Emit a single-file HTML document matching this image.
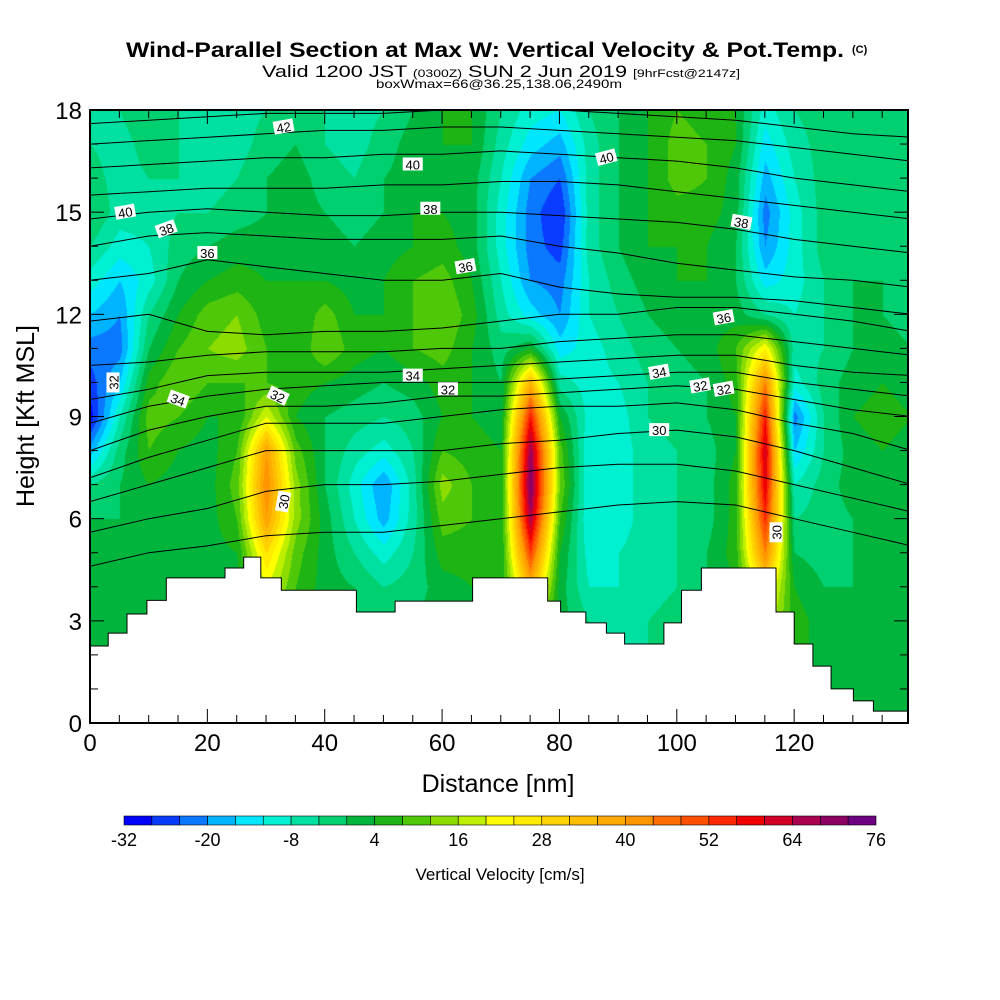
<!DOCTYPE html>
<html><head><meta charset="utf-8">
<style>
body{margin:0;background:#fff;width:1000px;height:1000px;overflow:hidden;font-family:"Liberation Sans",sans-serif}
svg{position:absolute;left:0;top:0}
canvas{position:absolute;left:90px;top:110px}
</style></head>
<body>
<canvas id="heat" width="818" height="613"></canvas>
<svg id="chart" width="1000" height="1000">
<text x="126" y="57" font-size="21" font-weight="bold" textLength="718" lengthAdjust="spacingAndGlyphs">Wind-Parallel Section at Max W: Vertical Velocity &amp; Pot.Temp.</text>
<text x="852" y="53" font-size="11" font-weight="bold">(C)</text>
<text x="262" y="77" font-size="17" textLength="478" lengthAdjust="spacingAndGlyphs">Valid 1200 JST <tspan font-size="11">(0300Z)</tspan> SUN 2 Jun 2019 <tspan font-size="11">[9hrFcst@2147z]</tspan></text>
<text x="376" y="88" font-size="12" textLength="246" lengthAdjust="spacingAndGlyphs">boxWmax=66@36.25,138.06,2490m</text>
<g id="plotg"></g>
<text x="498" y="792" text-anchor="middle" font-size="25">Distance [nm]</text>
<text transform="translate(34,416) rotate(-90)" text-anchor="middle" font-size="25">Height [Kft MSL]</text>
<g id="cbar"></g>
<text x="500" y="880" text-anchor="middle" font-size="17">Vertical Velocity [cm/s]</text>
</svg>
<script>
const distCols=[0,5,10,15,20,25,30,35,40,45,50,55,60,65,70,75,80,85,90,95,100,105,110,115,120,125,130,135,140];
const heightRows=[18,17,16,15,14,13,12,11,10,9,8,7,6,5,4,3,2,1,0];
const wGrid=[
[-4,-4,0,-4,-6,-6,-4,0,-4,-6,-4,0,4,4,-4,-10,-12,-4,0,4,8,6,4,-10,-4,-2,-2,-4,-4],
[-4,-6,-2,-4,-6,-6,-2,0,-4,-6,-2,2,4,4,-6,-14,-18,-6,0,4,10,8,4,-14,-6,-2,-2,-4,-4],
[-2,-6,-4,-4,-6,-4,0,2,-2,-4,0,2,4,2,-8,-20,-24,-6,0,4,10,8,2,-18,-8,-2,-2,-2,-4],
[0,-6,-6,-4,-4,-2,0,2,0,-2,0,4,4,2,-10,-22,-28,-6,0,4,6,6,2,-22,-10,-2,0,-2,-4],
[-4,-10,-8,-2,0,2,2,4,2,0,2,4,6,2,-10,-22,-26,-6,0,4,4,4,0,-20,-10,-2,0,-2,-4],
[-10,-16,-10,0,4,6,4,4,4,2,4,8,10,4,-8,-20,-22,-8,-2,2,4,4,0,-14,-10,-4,0,0,-2],
[-16,-20,-4,4,10,12,6,4,10,4,4,8,12,6,-6,-14,-20,-8,-4,0,2,2,2,-4,-8,-4,0,0,-2],
[-22,-22,0,8,12,14,8,4,12,6,4,8,10,4,-2,4,-14,-10,-6,-2,0,2,8,24,-6,-4,0,2,0],
[-26,-16,6,12,8,8,8,6,4,2,0,2,6,4,0,36,-6,-10,-8,-4,-2,0,6,44,-10,-2,2,4,2],
[-30,-8,10,8,4,4,20,4,0,-2,-4,-2,4,4,2,56,4,-10,-10,-4,-2,0,4,56,-22,-4,4,6,4],
[-18,-2,8,4,2,8,40,10,0,-6,-10,-4,8,6,4,68,10,-12,-10,-6,-4,-2,4,62,-16,-4,2,4,2],
[-4,0,4,2,2,10,44,14,0,-10,-20,-6,14,8,4,72,12,-12,-10,-6,-4,-2,6,60,-8,-2,2,2,2],
[0,0,2,2,2,8,40,14,2,-8,-18,-6,10,8,4,66,8,-12,-10,-6,-4,-2,6,54,-4,-2,0,2,2],
[0,0,2,2,2,4,28,10,2,-4,-10,-4,6,6,4,52,4,-10,-8,-6,-4,0,6,44,0,-2,0,0,0],
[0,2,2,2,2,2,20,8,2,0,-4,-2,2,4,4,36,2,-8,-8,-6,-4,0,4,28,4,0,0,0,0],
[0,2,2,2,2,2,10,4,2,0,0,0,2,2,2,16,2,-4,-6,-4,-2,0,4,20,6,2,0,0,0],
[0,2,2,2,2,2,10,4,2,0,0,0,2,2,2,16,2,-4,-6,-4,-2,0,4,20,6,2,0,0,0],
[0,2,2,2,2,2,10,4,2,0,0,0,2,2,2,16,2,-4,-6,-4,-2,0,4,20,6,2,0,0,0],
[0,2,2,2,2,2,10,4,2,0,0,0,2,2,2,16,2,-4,-6,-4,-2,0,4,20,6,2,0,0,0]];
const terrainStartNm=[0,3.1,6.3,9.7,13,23,26.2,29.1,32.6,37,45.4,52,65.2,78,80.2,84.5,88,91.1,91.5,97.8,100.8,104.2,116.9,120,123.2,126.3,130.1,133.5,136.9];
const terrainKft=[2.26,2.64,3.2,3.6,4.26,4.55,4.87,4.26,3.9,3.9,3.26,3.58,4.26,3.58,3.26,2.94,2.64,2.32,2.32,2.94,3.9,4.55,3.26,2.32,1.67,1.0,0.65,0.35,0.35];
const cbarTicks=[-32,-20,-8,4,16,28,40,52,64,76];
const palette=["#0000ff","#0a3cff","#0a78ff","#00b4ff","#00e6ff","#00f0d2","#00e0a0","#00d070","#00b43c","#1eb414","#50c80a","#8cdc00","#bef000","#ffff00","#ffeb00","#ffd200","#ffbe00","#ffaa00","#ff9600","#ff6e00","#ff5000","#ff2800","#f00000","#d20028","#aa0050","#8c0064","#6e0082"];
const thetaXs=[0,10,20,30,40,50,60,70,80,90,100,110,120,130,140];
const thetaLines=[
[4.6,5.0,5.2,5.5,5.6,5.6,5.8,6.0,6.2,6.4,6.5,6.4,6.0,5.6,5.2],
[5.6,6.0,6.3,6.8,7.0,7.0,7.1,7.3,7.5,7.6,7.6,7.4,7.0,6.6,6.2],
[6.5,7.0,7.5,8.0,8.0,8.0,8.0,8.2,8.3,8.5,8.6,8.4,8.0,7.5,7.0],
[7.2,7.8,8.3,8.8,8.8,8.8,9.0,9.2,9.3,9.3,9.4,9.2,8.8,8.5,8.0],
[8.0,8.6,9.0,9.3,9.3,9.4,9.6,9.6,9.7,9.8,9.9,9.8,9.5,9.2,9.0],
[8.8,9.3,9.6,9.8,9.9,10,10,10,10.1,10.2,10.3,10.3,10.0,9.8,9.6],
[9.5,9.8,10.2,10.3,10.3,10.3,10.4,10.5,10.6,10.7,10.8,10.8,10.5,10.3,10.2],
[10.5,10.6,10.8,10.9,10.9,10.9,11,11,11.2,11.3,11.4,11.4,11.2,11,10.8],
[11.8,12.0,11.5,11.4,11.5,11.5,11.6,11.8,12,12,12.2,12.2,12,11.8,11.5],
[13.0,13.2,13.6,13.4,13.2,13.0,13.0,13.2,12.8,12.6,12.5,12.5,12.4,12.2,12],
[14.0,14.3,14.4,14.3,14.2,14.2,14.2,14.3,14.0,13.8,13.5,13.3,13.1,13,12.8],
[14.8,15.0,15.1,15.0,14.9,14.9,15,15,14.9,14.8,14.7,14.5,14.2,14,13.8],
[15.5,15.6,15.7,15.7,15.7,15.8,15.8,15.9,15.9,15.8,15.6,15.4,15.2,15,14.8],
[16.3,16.4,16.5,16.6,16.6,16.7,16.7,16.8,16.7,16.6,16.5,16.3,16,15.8,15.6],
[17.0,17.1,17.2,17.3,17.4,17.4,17.5,17.5,17.4,17.3,17.2,17.1,16.9,16.7,16.5],
[17.6,17.7,17.8,17.9,17.9,17.9,18,18,18,17.9,17.8,17.7,17.5,17.3,17.2]];
const labelNm=[4,20,15,32,13,6,33,61,55,64,97,58,55,108,108,97,104,88,111,33,117];
const labelKft=[10.0,13.8,9.5,9.6,14.5,15.0,6.5,9.8,10.2,13.4,8.6,15.1,16.4,9.8,11.9,10.3,9.9,16.6,14.7,17.5,5.6];
const labelText=["32","36","34","32","38","40","30","32","34","36","30","38","40","32","36","34","32","40","38","42","30"];
const labelRot=[-90,0,20,25,-20,-10,-80,0,0,-10,0,0,0,-10,-10,-10,-10,-15,10,-10,-90];

const X0=90,X1=908,Y0=723,Y1=110,XMAX=139.4,YMAX=18;
const sx=d=>X0+d/XMAX*(X1-X0);
const sy=h=>Y0-h/YMAX*(Y0-Y1);
const NS="http://www.w3.org/2000/svg";
function mk(tag,attrs,parent){const e=document.createElementNS(NS,tag);for(const k in attrs)e.setAttribute(k,attrs[k]);parent.appendChild(e);return e;}

function wAt(d,h){
  let ci=Math.min(distCols.length-2,Math.max(0,Math.floor(d/5)));
  let tx=(d-distCols[ci])/5;
  let ri=Math.min(heightRows.length-2,Math.max(0,Math.floor((18-h)/1)));
  let ty=(heightRows[ri]-h)/1;
  const a=wGrid[ri][ci],b=wGrid[ri][ci+1],c=wGrid[ri+1][ci],e=wGrid[ri+1][ci+1];
  return (a*(1-tx)+b*tx)*(1-ty)+(c*(1-tx)+e*tx)*ty;
}
function hex(c){return [parseInt(c.slice(1,3),16),parseInt(c.slice(3,5),16),parseInt(c.slice(5,7),16)];}
const palRGB=palette.map(hex);
const cv=document.getElementById('heat'),ctx=cv.getContext('2d');
const img=ctx.createImageData(818,613);
for(let py=0;py<613;py++){for(let px=0;px<818;px++){
  const d=px/(X1-X0)*XMAX,h=(613-py)/613*YMAX;
  let v=wAt(d,h);let k=Math.floor((v+32)/4);k=Math.max(0,Math.min(26,k));
  const c=palRGB[k],i=(py*818+px)*4;img.data[i]=c[0];img.data[i+1]=c[1];img.data[i+2]=c[2];img.data[i+3]=255;}}
ctx.putImageData(img,0,0);

const g=document.getElementById('plotg');
mk('clipPath',{id:'clip'},mk('defs',{},g));
mk('rect',{x:X0,y:Y1,width:X1-X0,height:Y0-Y1},document.getElementById('clip'));
const cg=mk('g',{'clip-path':'url(#clip)'},g);
thetaLines.forEach((ln,i)=>{
  let d='';ln.forEach((h,j)=>{d+=(j?'L':'M')+sx(thetaXs[j]).toFixed(1)+','+sy(h).toFixed(1);});
  const p=mk('path',{d:d,fill:'none',stroke:'#000','stroke-width':1},cg);
  
  
});
let td='M'+sx(0)+','+sy(0);
terrainStartNm.forEach((s,i)=>{const e=i<terrainStartNm.length-1?terrainStartNm[i+1]:XMAX;td+='L'+sx(s).toFixed(1)+','+sy(terrainKft[i]).toFixed(1)+'L'+sx(e).toFixed(1)+','+sy(terrainKft[i]).toFixed(1);});
td+='L'+sx(XMAX)+','+sy(0)+'Z';
const terr=mk('path',{d:td,fill:'#fff',stroke:'#000','stroke-width':1},cg);


labelText.forEach((t,i)=>{
  const x=sx(labelNm[i]),y=sy(labelKft[i]);
  const lg=mk('g',{transform:`translate(${x},${y}) rotate(${labelRot[i]})`},cg);
  
  
  mk('rect',{x:-10,y:-7,width:20,height:13,fill:'#fff'},lg);
  const tx=mk('text',{x:0,y:5,'text-anchor':'middle','font-size':13},lg);tx.textContent=t;
});
mk('rect',{x:X0,y:Y1,width:X1-X0,height:Y0-Y1,fill:'none',stroke:'#000','stroke-width':2},g);
for(let h=0;h<=18;h++){const y=sy(h),L=h%3===0?14:8;
  mk('line',{x1:X0,y1:y,x2:X0+L,y2:y,stroke:'#000','stroke-width':1},g);
  mk('line',{x1:X1,y1:y,x2:X1-L,y2:y,stroke:'#000','stroke-width':1},g);
  if(h%3===0){const t=mk('text',{x:X0-8,y:y+9,'text-anchor':'end','font-size':24},g);t.textContent=h;
    }}
for(let d=0;d<=135;d+=5){const x=sx(d),L=d%20===0?14:8;
  mk('line',{x1:x,y1:Y0,x2:x,y2:Y0-L,stroke:'#000','stroke-width':1},g);
  mk('line',{x1:x,y1:Y1,x2:x,y2:Y1+L,stroke:'#000','stroke-width':1},g);
  if(d%20===0){const t=mk('text',{x:x,y:Y0+28,'text-anchor':'middle','font-size':24},g);t.textContent=d;
    }}
const cb=document.getElementById('cbar');const CX0=124,CX1=876,CY=816;
const cs=v=>CX0+(v+32)/108*(CX1-CX0);
palette.forEach((c,i)=>{const r=mk('rect',{x:cs(-32+4*i),y:CY,width:(CX1-CX0)/27,height:9,fill:c,stroke:'#000','stroke-width':0.6},cb);
  });
cbarTicks.forEach(v=>{const t=mk('text',{x:cs(v),y:846,'text-anchor':'middle','font-size':18},cb);t.textContent=v;
  });
</script>
</body></html>
